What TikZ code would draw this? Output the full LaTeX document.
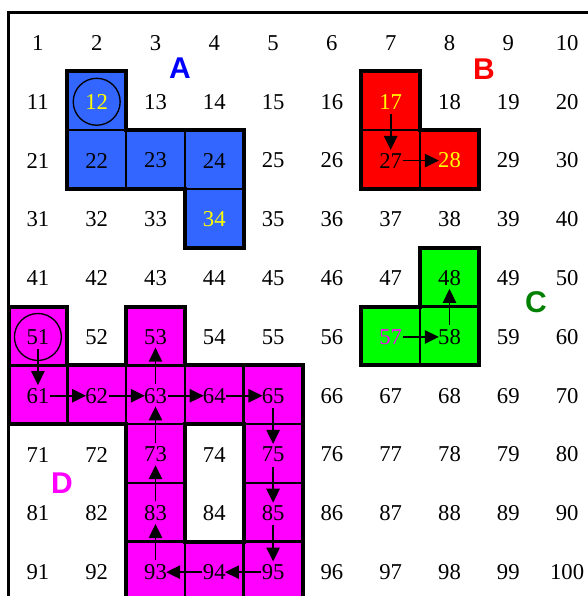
\documentclass[tikz,border=0pt]{standalone}
\usepackage{fontspec}
\setmainfont{Liberation Serif}
\newfontfamily\lsans{Liberation Sans}
\usetikzlibrary{arrows.meta}
\definecolor{cblue}{RGB}{51,102,255}
\definecolor{cred}{RGB}{255,0,0}
\definecolor{cgreen}{RGB}{0,255,0}
\definecolor{cmag}{RGB}{255,0,255}
\definecolor{cyel}{RGB}{255,255,0}
\definecolor{lblue}{RGB}{0,0,255}
\definecolor{lgreen}{RGB}{0,128,0}
\tikzset{
  num/.style={font=\fontsize{17}{20}\selectfont, inner sep=0pt, yshift=-0.8pt},
  cellbox/.style={draw=black, line width=2pt},
  region/.style={draw=black, line width=3pt, line join=miter},
  arr/.style={line width=1.2pt, -{Triangle[length=10.5pt,width=10pt]}, shorten <=9pt, shorten >=8pt},
  lab/.style={font=\lsans\bfseries\fontsize{22.5}{24}\selectfont, inner sep=0pt},
  ring/.style={draw=black, line width=1pt},
  frame/.style={draw=black, line width=2.4pt}
}
\begin{document}
\begin{tikzpicture}[x=0.75pt,y=-0.75pt]
\useasboundingbox (0,0) rectangle (588,596);
\begin{scope}
\clip (0,0) rectangle (588,596);
\begin{scope}[shift={(8.5,12.5)}, x=44.1pt, y=-44.1pt]
  % coloured cells
  \foreach \n/\col in {12/cblue,22/cblue,23/cblue,24/cblue,34/cblue,
                       17/cred,27/cred,28/cred,
                       48/cgreen,57/cgreen,58/cgreen,
                       51/cmag,53/cmag,61/cmag,62/cmag,63/cmag,64/cmag,65/cmag,
                       73/cmag,75/cmag,83/cmag,85/cmag,93/cmag,94/cmag,95/cmag}{
    \pgfmathtruncatemacro\rr{(\n-1)/10}
    \pgfmathtruncatemacro\cc{\n-1-10*\rr}
    \fill[\col] (\cc,\rr) rectangle ++(1,1);
    \draw[cellbox] (\cc,\rr) rectangle ++(1,1);
  }
  % region outlines
  \draw[region] (1,1) -- (2,1) -- (2,2) -- (4,2) -- (4,4) -- (3,4) -- (3,3) -- (1,3) -- cycle;
  \draw[region] (6,1) -- (7,1) -- (7,2) -- (8,2) -- (8,3) -- (6,3) -- cycle;
  \draw[region] (7,4) -- (8,4) -- (8,6) -- (6,6) -- (6,5) -- (7,5) -- cycle;
  \draw[region] (0,5) -- (1,5) -- (1,6) -- (2,6) -- (2,5) -- (3,5) -- (3,6) -- (5,6) -- (5,10.5) -- (2,10.5) -- (2,7) -- (0,7) -- cycle;
  \draw[region] (3,7) -- (4,7) -- (4,9) -- (3,9) -- cycle;
  % frame
  \draw[frame] (0,0) rectangle (10,10);
  % numbers
  \foreach \n in {1,...,100}{
    \pgfmathtruncatemacro\rr{(\n-1)/10}
    \pgfmathtruncatemacro\cc{\n-1-10*\rr}
    \def\tc{black}
    \ifnum\n=12 \def\tc{cyel}\fi
    \ifnum\n=34 \def\tc{cyel}\fi
    \ifnum\n=17 \def\tc{cyel}\fi
    \ifnum\n=28 \def\tc{cyel}\fi
    \ifnum\n=57 \def\tc{cmag}\fi
    \node[num, text=\tc] (t\n) at (\cc+0.5,\rr+0.5) {\n};
  }
\end{scope}
% circles
\draw[ring] (t12.center) circle[radius=17.6pt];
\draw[ring] (t51.center) circle[radius=17.6pt];
% arrows
\draw[arr] (t17.center) -- (t27.center);
\draw[arr] (t27.center) -- (t28.center);
\draw[arr] (t57.center) -- (t58.center);
\draw[arr] (t58.center) -- (t48.center);
\draw[arr] (t51.center) -- (t61.center);
\draw[arr] (t61.center) -- (t62.center);
\draw[arr] (t62.center) -- (t63.center);
\draw[arr] (t63.center) -- (t53.center);
\draw[arr] (t63.center) -- (t64.center);
\draw[arr] (t64.center) -- (t65.center);
\draw[arr] (t65.center) -- (t75.center);
\draw[arr] (t75.center) -- (t85.center);
\draw[arr] (t85.center) -- (t95.center);
\draw[arr] (t95.center) -- (t94.center);
\draw[arr] (t94.center) -- (t93.center);
\draw[arr] (t93.center) -- (t83.center);
\draw[arr] (t83.center) -- (t73.center);
\draw[arr] (t73.center) -- (t63.center);
% region labels
\node[lab, text=lblue] (la) at (180,68) {A};
\node[lab, text=cred] (lb) at (484,69) {B};
\node[lab, text=lgreen] (lc) at (536,302) {C};
\node[lab, text=cmag] (ld) at (62,483) {D};
\end{scope}
\end{tikzpicture}
\end{document}
